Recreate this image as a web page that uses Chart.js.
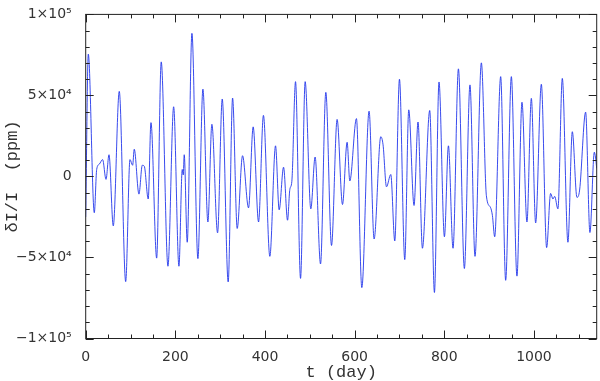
<!DOCTYPE html>
<html>
<head>
<meta charset="utf-8">
<script src="https://cdn.jsdelivr.net/npm/chart.js@4/dist/chart.umd.min.js"></script>
<style>
  html, body { margin: 0; padding: 0; background: #fff; }
  #wrap { width: 600px; height: 381px; }
</style>
</head>
<body>
<div id="wrap"><canvas id="myChart"></canvas></div>
<script>
// time (day) and relative flux (ppm)
const days = [0, 5.8, 19.2, 24.5, 30.4, 37.8, 45.3, 52, 61.5, 74.9, 89.2, 98.8, 104.7, 108.3, 118.8, 126.2, 130.7, 139.5,
  145.6, 158.3, 168.5, 183.5, 196.2, 208, 215.4, 217.6, 219.8, 226.5, 237, 250.3, 261.5, 272.6, 281.5, 294.2,
  304.6, 317.9, 327.7, 338, 349.9, 363.3, 373.6, 385.6, 396.5, 410.8, 423.5, 431.6, 441.4, 450.3, 455.4, 459.9,
  468.1, 479.3, 489.6, 502.2, 511.8, 523.9, 535.7, 548.4, 560.9, 572.9, 583.2, 589.2, 604, 616, 632.2, 643.4,
  658.3, 663.4, 671, 680.6, 689.5, 700, 711.8, 720.7, 732.5, 741.4, 751.2, 767.5, 778, 788.2, 800.3, 809.2,
  819.5, 831.5, 844.8, 857.3, 868.5, 882.7, 893.9, 902.8, 907.3, 912.4, 925.8, 936.9, 949.6, 962.1, 973.3,
  984.4, 994.2, 1003.8, 1016.5, 1028.3, 1037.2, 1042.4, 1046.2, 1053.5, 1063.3, 1075.8, 1085.6, 1095.9, 1101.9,
  1115.3, 1124.9, 1134.7, 1137.5, 1140];
const flux = [-25000, 75500, -22400, 4300, 7600, 10400, -1800, 13400, -30500, 52500, -64900, 10400, 6900, 16800, -10900, 6900, 6300, -13900,
  33200, -50400, 70700, -55400, 43000, -55400, 4300, 1000, 13400, -40600, 88300, -50700, 53900, -28100, 32200, -34800,
  47800, -65100, 48400, -32100, 12800, -19400, 30600, -28100, 37700, -49300, 18900, -20600, 5700, -27000, -8000, -3000,
  58500, -62900, 58500, -20000, 12000, -54000, 51900, -42600, 35200, -17300, 21100, -2800, 35700, -68600, 40300, -38600,
  24500, 19500, -6400, 1200, -39800, 60000, -51300, 41100, -17900, 33600, -44300, 40700, -71600, 58300, -37200, 18900,
  -44300, 66400, -56800, 56500, -49300, 70100, -11900, -19000, -24000, -37200, 61600, -64100, 61600, -61500, 45800,
  -28100, 48200, -28700, 56900, -43900, -10500, -13900, -12300, -20000, 60500, -40600, 27600, -12900, -8400,
  39700, -34600, 15000, 11400, 5000];

const xTicks = [0, 200, 400, 600, 800, 1000];
const xTickLabels = ['0', '200', '400', '600', '800', '1000'];
const yTicks = [-100000, -50000, 0, 50000, 100000];
const yTickLabels = ['\u22121\u00d710\u2075', '\u22125\u00d710\u2074', '0', '5\u00d710\u2074', '1\u00d710\u2075'];
const xMax = 1140;

let data = [];
days.forEach((d, i) => {
  data.push({x: d, y: flux[i]});
});

const font = {family: 'DejaVu Sans', size: 14};
const titleFont = {family: 'Liberation Mono', size: 17, lineHeight: 1};

// IDL style box with inward ticks
const frameTicks = {
  id: 'frameTicks',
  afterDatasetsDraw(chart) {
    const {ctx, chartArea: a, scales: {x, y}} = chart;
    ctx.save();
    ctx.strokeStyle = '#222';
    ctx.lineWidth = 1;
    ctx.strokeRect(a.left, a.top, a.right - a.left, a.bottom - a.top);
    ctx.beginPath();
    for (let v = 0; v <= xMax; v += 50) {
      const px = Math.round(x.getPixelForValue(v)) + 0.5;
      const len = v % 200 === 0 ? 8 : 4;
      ctx.moveTo(px, a.bottom); ctx.lineTo(px, a.bottom - len);
      ctx.moveTo(px, a.top); ctx.lineTo(px, a.top + len);
    }
    for (let v = -100000; v <= 100000; v += 10000) {
      const py = Math.round(y.getPixelForValue(v)) + 0.5;
      const len = v % 50000 === 0 ? 8 : 4;
      ctx.moveTo(a.left, py); ctx.lineTo(a.left + len, py);
      ctx.moveTo(a.right, py); ctx.lineTo(a.right - len, py);
    }
    ctx.stroke();
    ctx.restore();
  }
};

const config = {
  type: 'line',
  data: {
    datasets: [{
      label: 'flux',
      data,
      borderColor: 'rgb(35,55,235)',
      borderWidth: 0.9,
      pointRadius: 0,
      fill: false,
      cubicInterpolationMode: 'monotone'
    }]
  },
  options: {
    responsive: true,
    maintainAspectRatio: false,
    animation: false,
    layout: {padding: {top: 9, right: 3.3, left: 0, bottom: 0}},
    plugins: {legend: {display: false}, tooltip: {enabled: false}},
    scales: {
      x: {
        type: 'linear',
        min: 0,
        max: xMax,
        grid: {display: false},
        border: {display: false},
        afterBuildTicks: s => { s.ticks = xTicks.map(v => ({value: v})); },
        afterFit: s => { s.height = 42.5; },
        ticks: {
          font, color: '#333', padding: 2, maxRotation: 0,
          callback: v => xTickLabels[xTicks.indexOf(v)]
        },
        title: {display: true, text: 't (day)', font: titleFont, color: '#333', padding: {top: 0.5, bottom: 0.5}}
      },
      y: {
        min: -100000,
        max: 100000,
        grid: {display: false},
        border: {display: false},
        afterBuildTicks: s => { s.ticks = yTicks.map(v => ({value: v})); },
        afterFit: s => { s.width = 85.7; },
        ticks: {
          font, color: '#333', padding: 6,
          callback: v => yTickLabels[yTicks.indexOf(v)]
        },
        title: {display: true, text: '\u03b4I/I  (ppm)', font: titleFont, color: '#333', padding: {top: 3.5, bottom: 3.5}}
      }
    }
  },
  plugins: [frameTicks]
};

const myChart = new Chart(document.getElementById('myChart'), config);
</script>
</body>
</html>
